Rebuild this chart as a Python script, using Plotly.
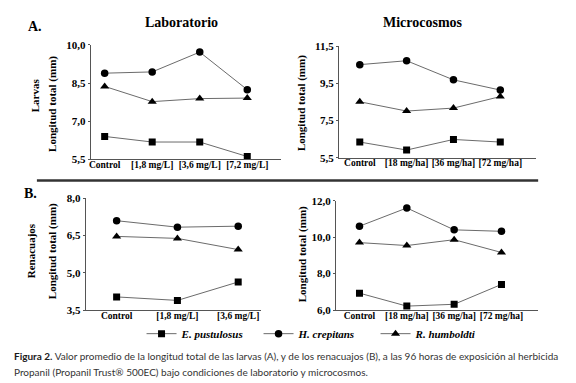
import plotly.graph_objects as go

W, H = 576, 383

# ---- data ----
lab_larvas_cats = ["Control", "[1,8 mg/L]", "[3,6 mg/L]", "[7,2 mg/L]"]
mic_cats = ["Control", "[18 mg/ha]", "[36 mg/ha]", "[72 mg/ha]"]
lab_ren_cats = ["Control", "[1,8 mg/L]", "[3,6 mg/L]"]

species = ["E. pustulosus", "H. crepitans", "R. humboldti"]

# A. Larvas - Laboratorio
lab_larvas_epu = [6.40, 6.18, 6.18, 5.61]
lab_larvas_hcr = [8.89, 8.94, 9.72, 8.24]
lab_larvas_rhu = [8.37, 7.77, 7.89, 7.91]
# A. Larvas - Microcosmos
mic_larvas_epu = [6.34, 5.91, 6.48, 6.34]
mic_larvas_hcr = [10.51, 10.72, 9.69, 9.14]
mic_larvas_rhu = [8.51, 8.01, 8.17, 8.79]
# B. Renacuajos - Laboratorio
lab_ren_epu = [4.03, 3.89, 4.63]
lab_ren_hcr = [7.09, 6.83, 6.87]
lab_ren_rhu = [6.46, 6.38, 5.93]
# B. Renacuajos - Microcosmos
mic_ren_epu = [6.93, 6.22, 6.32, 7.41]
mic_ren_hcr = [10.60, 11.60, 10.40, 10.32]
mic_ren_rhu = [9.70, 9.54, 9.86, 9.16]

ytick_lab_larvas = [5.5, 7.0, 8.5, 10.0]
ytick_mic_larvas = [5.5, 7.5, 9.5, 11.5]
ytick_lab_ren = [3.5, 5.0, 6.5, 8.0]
ytick_mic_ren = [6.0, 8.0, 10.0, 12.0]

# ---- style ----
SERIF = "Liberation Serif"
symbols = ["square", "circle", "triangle-up"]
msizes = [7, 7.5, 8]
LINE_C = "#6b6b6b"
AX_C = "#555555"


def px_x(p):
    return p / W


def px_y(p):
    return 1 - p / H


def fmt(v):
    return "<b>" + f"{v:.1f}".replace(".", ",") + "</b>"


fig = go.Figure()

panels = [
    ("", lab_larvas_cats, [lab_larvas_epu, lab_larvas_hcr, lab_larvas_rhu], ytick_lab_larvas,
     (81, 272), (150, 32), 95, 47.7),
    ("2", mic_cats, [mic_larvas_epu, mic_larvas_hcr, mic_larvas_rhu], ytick_mic_larvas,
     (330, 528), (148.3, 33.3), 351, 47.0),
    ("3", lab_ren_cats, [lab_ren_epu, lab_ren_hcr, lab_ren_rhu], ytick_lab_ren,
     (76, 252), (305.7, 190), 107, 61.0),
    ("4", mic_cats, [mic_ren_epu, mic_ren_hcr, mic_ren_rhu], ytick_mic_ren,
     (327, 530), (305.7, 192.7), 350.7, 47.5),
]

for pi, (aid, cats, series, yt, xs, ys, c0, sp) in enumerate(panels):
    xs_idx = list(range(len(cats)))
    for si, vals in enumerate(series):
        fig.add_trace(go.Scatter(
            x=xs_idx, y=vals, mode="lines+markers",
            name=f"<b><i>{species[si]}</i></b>",
            showlegend=(pi == 0),
            line=dict(color=LINE_C, width=1),
            marker=dict(symbol=symbols[si], size=msizes[si], color="black"),
            xaxis="x" + aid, yaxis="y" + aid,
        ))
    x_left = -(c0 - xs[0]) / sp
    x_right = (len(cats) - 1) + (xs[1] - (c0 + sp * (len(cats) - 1))) / sp
    xa = dict(
        domain=[px_x(xs[0]), px_x(xs[1])],
        range=[x_left, x_right],
        tickvals=xs_idx, ticktext=["<b>" + c + "</b>" for c in cats],
        showline=True, linecolor=AX_C, linewidth=1,
        showgrid=False, zeroline=False, ticks="",
        ticklabelstandoff=-4,
        tickfont=dict(family=SERIF, size=9.5, color="black"),
        anchor="y" + aid, fixedrange=True,
    )
    ya = dict(
        domain=[px_y(ys[0]), px_y(ys[1])],
        range=[yt[0], yt[-1]],
        tickvals=yt, ticktext=[fmt(v) for v in yt],
        showline=True, linecolor=AX_C, linewidth=1,
        showgrid=False, zeroline=False, ticks="outside", ticklen=2, tickcolor=AX_C,
        tickfont=dict(family=SERIF, size=11, color="black"),
        anchor="x" + aid, fixedrange=True,
    )
    fig.layout["xaxis" + aid] = xa
    fig.layout["yaxis" + aid] = ya

annotations = []


def ann(text, x, y, size, angle=0, family=SERIF, xanchor="center", color="black"):
    annotations.append(dict(
        text=text, x=px_x(x), y=px_y(y), xref="paper", yref="paper",
        showarrow=False, textangle=angle, xanchor=xanchor, yanchor="middle",
        font=dict(family=family, size=size, color=color),
    ))


ann("<b>A.</b>", 16, 13, 14, xanchor="left")
ann("<b>B.</b>", 12, 185, 14, xanchor="left")
ann("<b>Laboratorio</b>", 172, 9, 14)
ann("<b>Microcosmos</b>", 414, 9, 14)
ann("<b>Larvas</b>", 25, 84, 11, angle=-90)
ann("<b>Longitud total (mm)</b>", 42, 93, 11, angle=-90)
ann("<b>Longitud total (mm)</b>", 292, 92, 11, angle=-90)
ann("<b>Renacuajos</b>", 21, 244, 11, angle=-90)
ann("<b>Longitud total (mm)</b>", 42, 245, 11, angle=-90)
ann("<b>Longitud total (mm)</b>", 293, 248, 11, angle=-90)

CAP = "Lato"
ann("<span style='color:#1a1a1a'><b>Figura 2.</b></span> Valor promedio de la longitud total de las larvas (A), "
    "y de los renacuajos (B), a las 96 horas de exposición al herbicida",
    2, 353, 10, family=CAP, xanchor="left", color="#333333")
ann("Propanil (Propanil Trust® 500EC) bajo condiciones de laboratorio y microcosmos.",
    2, 370, 10, family=CAP, xanchor="left", color="#333333")

fig.update_layout(
    width=W, height=H,
    margin=dict(l=0, r=0, t=0, b=0),
    paper_bgcolor="white", plot_bgcolor="white",
    annotations=annotations,
    shapes=[dict(type="line", xref="paper", yref="paper",
                 x0=px_x(27), x1=px_x(530), y0=px_y(172), y1=px_y(172),
                 line=dict(color="#333333", width=2.5))],
    legend=dict(
        orientation="h", x=px_x(132), xanchor="left", y=px_y(330), yanchor="middle",
        font=dict(family=SERIF, size=11, color="black"),
        itemwidth=30, entrywidth=72, entrywidthmode="pixels",
        bgcolor="rgba(0,0,0,0)",
    ),
)

fig.write_html("out.html")
